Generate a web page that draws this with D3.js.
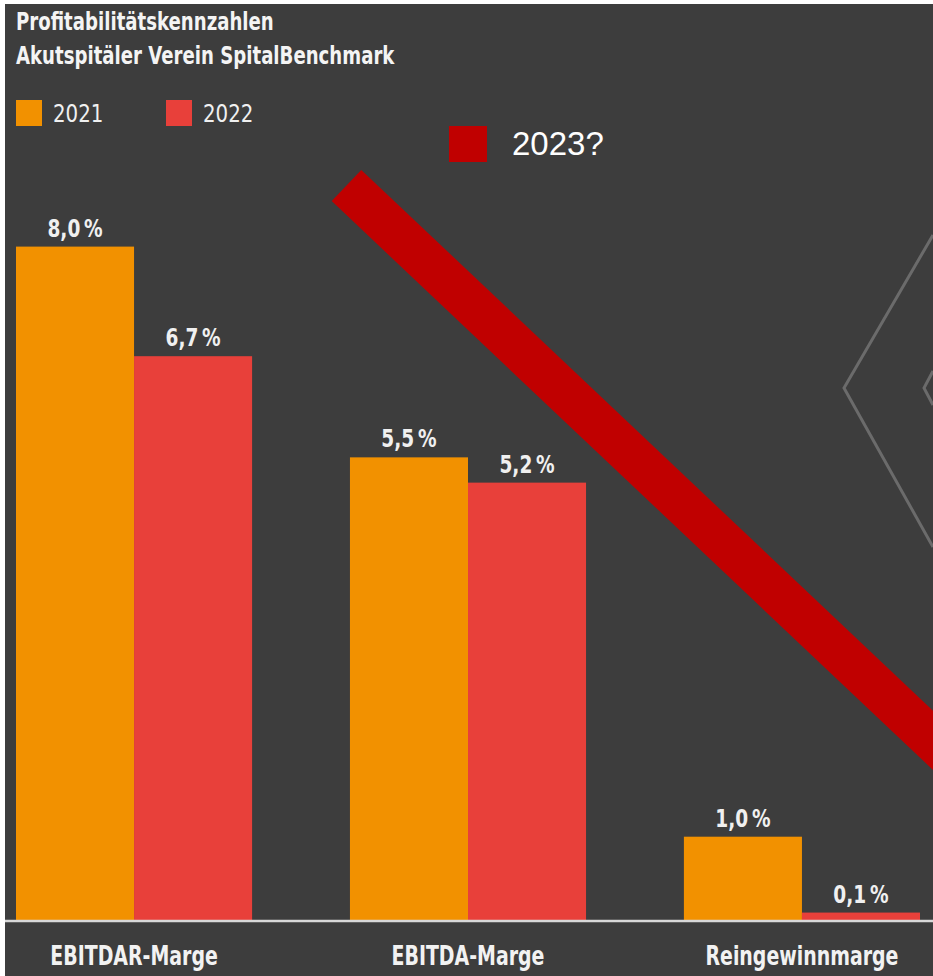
<!DOCTYPE html>
<html>
<head>
<meta charset="utf-8">
<script src="https://cdn.jsdelivr.net/npm/d3@7"></script>
<style>
  html, body { margin: 0; padding: 0; background: #ffffff; }
  svg { display: block; }
</style>
</head>
<body>
<svg id="chart" width="933" height="976"></svg>
<script>
// ---- data ----
const titleLines = ["Profitabilitätskennzahlen", "Akutspitäler Verein SpitalBenchmark"];
const categories = ["EBITDAR-Marge", "EBITDA-Marge", "Reingewinnmarge"];
const seriesNames = ["2021", "2022"];
const values2021 = [8.0, 5.5, 1.0];
const values2022 = [6.7, 5.2, 0.1];
const extraLegend = "2023?";

const colors = { "2021": "#F29100", "2022": "#E8403A" };
const condensed = "'Liberation Sans Narrow', 'DejaVu Sans Condensed', 'Roboto Condensed', 'DejaVu Sans', sans-serif";

const svg = d3.select("#chart");
const W = 933, H = 976;

// horizontal compression to mimic a condensed typeface
function squeeze(sel, s) {
  sel.each(function () {
    const t = d3.select(this);
    const x = +t.attr("x") || 0;
    t.attr("transform", `translate(${x},0) scale(${s},1) translate(${-x},0)`);
  });
}

// background panel
svg.append("rect").attr("x", 5).attr("y", 4).attr("width", W - 5).attr("height", H - 4).attr("fill", "#3d3d3d");

// decorative chevrons on the right
const deco = svg.append("g").attr("fill", "none").attr("stroke", "#6b6b6b").attr("stroke-width", 3);
deco.append("path").attr("d", "M933,235 L844,388 L933,547");
deco.append("path").attr("d", "M933,371 L924,388 L933,405");

// scales
const baseline = 921;
const y = d3.scaleLinear().domain([0, 8]).range([baseline, baseline - 8 * 84.3]);
const x0 = d3.scaleBand().domain(categories).range([16, 920]).paddingInner(0.293).paddingOuter(0).align(0);
const x1 = d3.scaleBand().domain(seriesNames).range([0, x0.bandwidth()]);

const rows = categories.map((c, i) => ({ cat: c, vals: [
  { s: "2021", v: values2021[i] },
  { s: "2022", v: values2022[i] }
]}));

const fmt = v => v.toFixed(1).replace(".", ",") + "\u2009%";

const g = svg.append("g");
const groups = g.selectAll("g.grp").data(rows).join("g")
  .attr("class", "grp")
  .attr("transform", d => `translate(${x0(d.cat)},0)`);

groups.selectAll("rect").data(d => d.vals).join("rect")
  .attr("x", d => x1(d.s))
  .attr("y", d => y(d.v))
  .attr("width", x1.bandwidth())
  .attr("height", d => y(0) - y(d.v))
  .attr("fill", d => colors[d.s]);

const vals = groups.selectAll("text.val").data(d => d.vals).join("text")
  .attr("class", "val")
  .attr("x", d => x1(d.s) + x1.bandwidth() / 2)
  .attr("y", d => y(d.v) - 10)
  .attr("text-anchor", "middle")
  .attr("font-family", condensed)
  .attr("font-weight", "bold")
  .attr("font-size", 24)
  .attr("fill", "#f0f0f0")
  .text(d => fmt(d.v));
squeeze(vals, 0.86);

// axis baseline
const xAxis = d3.axisBottom(x0).tickSize(0).tickPadding(26);
const ax = svg.append("g").attr("transform", `translate(0,${baseline})`).call(xAxis);
ax.select(".domain").remove();
ax.append("line").attr("x1", 5).attr("x2", W).attr("y1", 0).attr("y2", 0)
  .attr("stroke", "#d8d8d8").attr("stroke-width", 2.5);
const ticks = ax.selectAll(".tick text")
  .attr("font-family", condensed)
  .attr("font-weight", "bold")
  .attr("font-size", 26)
  .attr("fill", "#f2f2f2");
squeeze(ticks, 0.81);

// title
const title = svg.append("g").selectAll("text").data(titleLines).join("text")
  .attr("x", 16)
  .attr("y", (d, i) => 30 + i * 34)
  .attr("font-family", condensed)
  .attr("font-weight", "bold")
  .attr("font-size", 24)
  .attr("fill", "#f4f4f4")
  .text(d => d);
squeeze(title, 0.84);

// legend
const legendX = [16, 166];
const leg = svg.append("g");
seriesNames.forEach((s, i) => {
  leg.append("rect").attr("x", legendX[i]).attr("y", 100).attr("width", 26).attr("height", 26).attr("fill", colors[s]);
  const t = leg.append("text").attr("x", legendX[i] + 37).attr("y", 122)
    .attr("font-family", condensed).attr("font-size", 25).attr("fill", "#f0f0f0").text(s);
  squeeze(t, 0.88);
});

// annotation: 2023? and diagonal band
svg.append("rect").attr("x", 449).attr("y", 126).attr("width", 38).attr("height", 36).attr("fill", "#C00000");
svg.append("text").attr("x", 512).attr("y", 155)
  .attr("font-family", "'Liberation Sans', Arial, sans-serif").attr("font-size", 33)
  .attr("fill", "#ffffff").text(extraLegend);

svg.append("line")
  .attr("x1", 346.5).attr("y1", 185.5)
  .attr("x2", 346.5 + 700).attr("y2", 185.5 + 700 * 0.946)
  .attr("stroke", "#C00000").attr("stroke-width", 43).attr("stroke-linecap", "butt");
</script>
</body>
</html>
